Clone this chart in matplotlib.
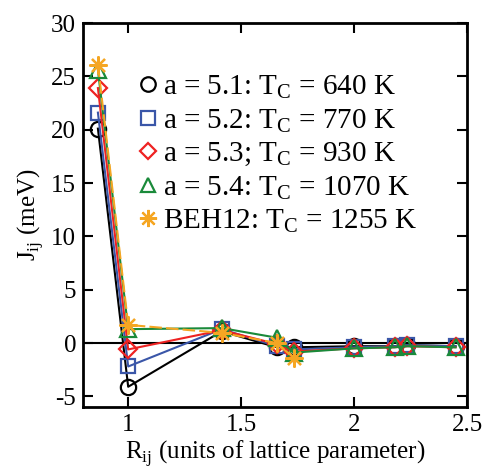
import matplotlib
matplotlib.use('Agg')
import matplotlib.pyplot as plt
import numpy as np

plt.rcParams['font.family'] = ['Liberation Serif', 'DejaVu Serif']
plt.rcParams['mathtext.fontset'] = 'custom'
plt.rcParams['mathtext.rm'] = 'Liberation Serif'
plt.rcParams['axes.unicode_minus'] = False

# neighbour shell distances (units of lattice parameter)
r = [0.866, 1.0, 1.414, 1.658, 1.732, 2.0, 2.179, 2.236, 2.449]
j51 = [20.1, -4.1, 1.1, -0.4, -0.4, -0.3, -0.3, -0.2, -0.3]
j52 = [21.6, -2.2, 1.3, -0.3, -0.6, -0.4, -0.3, -0.2, -0.3]
j53 = [23.9, -0.6, 1.2, -0.1, -0.8, -0.5, -0.4, -0.3, -0.4]
j54 = [25.6, 1.3, 1.4, 0.5, -0.9, -0.5, -0.4, -0.3, -0.4]
r_beh = [0.866, 1.0, 1.414, 1.658, 1.732]
j_beh = [26.1, 1.7, 0.95, 0.0, -1.4]

labels = ['a = 5.1: T$_\\mathrm{C}$ = 640 K',
          'a = 5.2: T$_\\mathrm{C}$ = 770 K',
          'a = 5.3; T$_\\mathrm{C}$ = 930 K',
          'a = 5.4: T$_\\mathrm{C}$ = 1070 K',
          'BEH12: T$_\\mathrm{C}$ = 1255 K']

fig = plt.figure(figsize=(4.84, 4.70), dpi=100)
ax = fig.add_axes([0.1715, 0.134, 0.7935, 0.817])

ax.axhline(0, color='k', lw=1.5, zorder=1)

cols = ['black', '#3a56a8', '#ee2222', '#1a8a3a', '#f5a623']
mk = ['o', 's', 'D', '^', (8, 2, 0)]
ms = [11, 10.5, 9, 11, 13]
ys = [j51, j52, j53, j54]
handles = []
for i in range(4):
    ax.plot(r, ys[i], '-', color=cols[i], lw=1.5, marker=mk[i], ms=ms[i],
            mfc='none', mec=cols[i], mew=1.6, zorder=2 + i)
ax.plot(r_beh, j_beh, '--', color=cols[4], lw=1.5, marker=mk[4], ms=ms[4],
        mec=cols[4], mew=1.6, dashes=(6, 2), zorder=7)

for i in range(5):
    h, = ax.plot([], [], ls='none', marker=mk[i], ms=ms[i] * 0.95, mfc='none',
                 mec=cols[i], mew=1.6)
    handles.append(h)
ax.legend(handles, labels, loc='upper left', bbox_to_anchor=(0.12, 0.9),
          frameon=False, fontsize=21, handlelength=0.5, handletextpad=0.25,
          labelspacing=0.2, borderaxespad=0)

ax.set_xlim(0.8, 2.5)
ax.set_ylim(-6, 30)
ax.set_xticks([1, 1.5, 2, 2.5])
ax.set_xticklabels(['1', '1.5', '2', '2.5'])
ax.set_yticks(np.arange(-5, 31, 5))
ax.tick_params(direction='in', length=7, width=1.5, labelsize=18,
               top=True, right=True, pad=5)
for s in ax.spines.values():
    s.set_linewidth(2)

ax.set_xlabel('R$_\\mathrm{ij}$ (units of lattice parameter)', fontsize=18, labelpad=2)
ax.set_ylabel('J$_\\mathrm{ij}$ (meV)', fontsize=18, labelpad=4)

fig.savefig('out.png', dpi=100)
